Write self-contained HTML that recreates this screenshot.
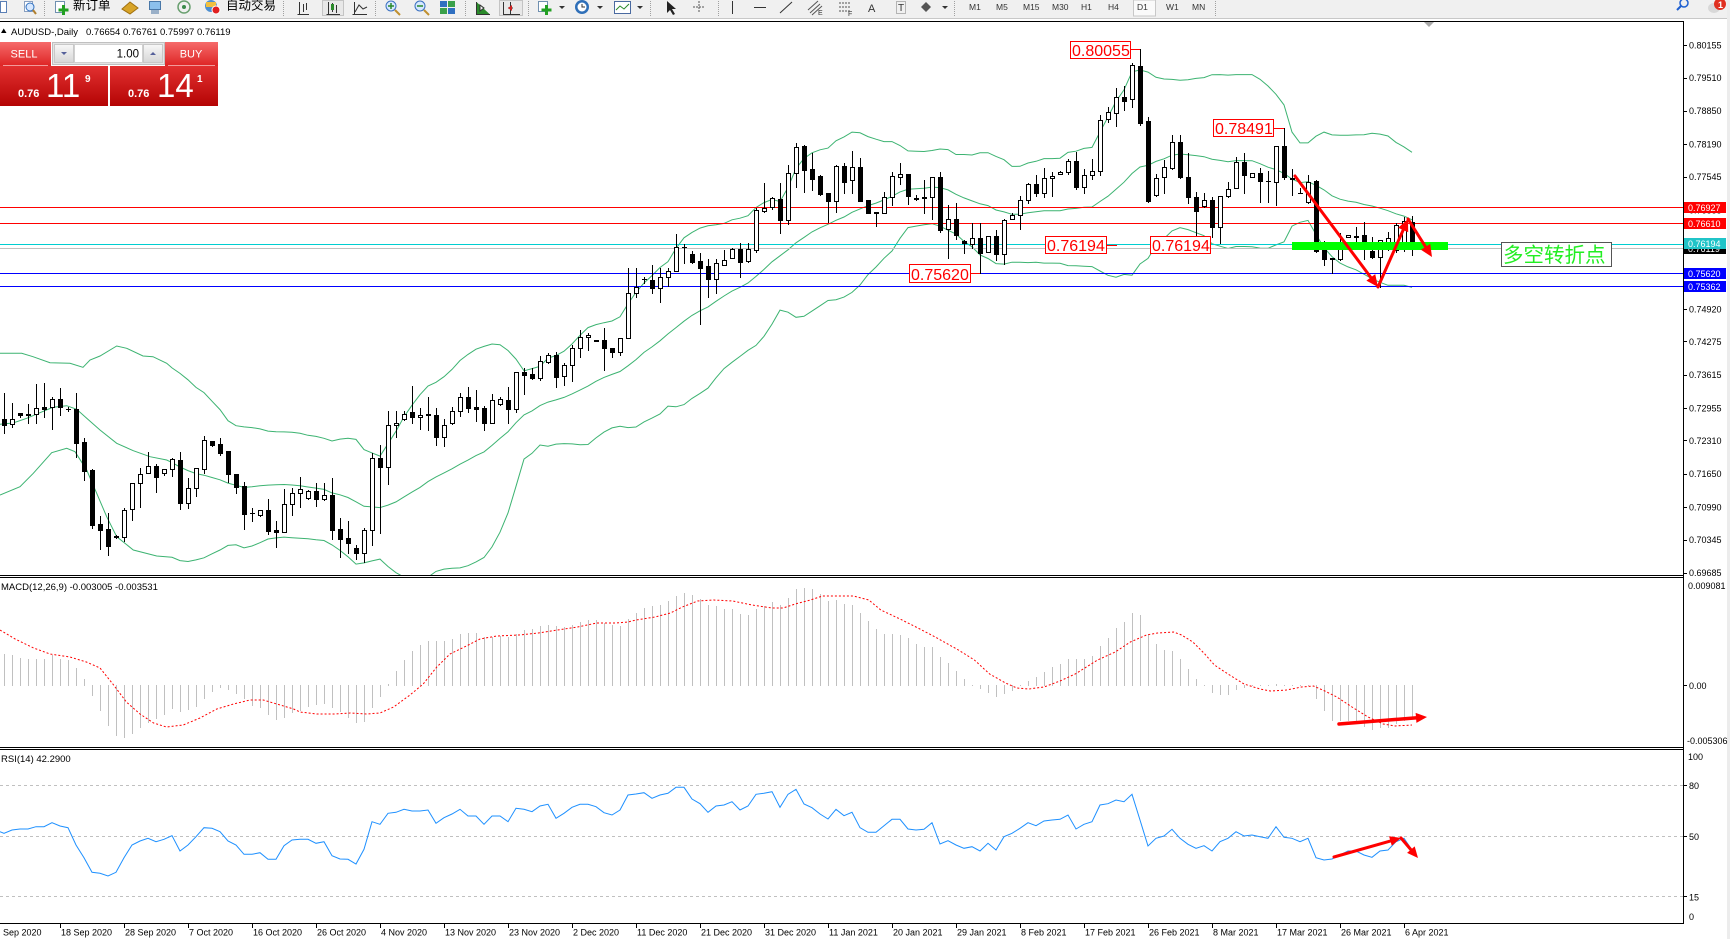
<!DOCTYPE html>
<html><head><meta charset="utf-8">
<style>
html,body{margin:0;padding:0;background:#fff;}
body{width:1730px;height:939px;overflow:hidden;}
svg{display:block;font-family:"Liberation Sans","Noto Sans CJK SC",sans-serif;}
</style></head><body>
<svg id="s" width="1730" height="939" viewBox="0 0 1730 939" xmlns="http://www.w3.org/2000/svg">
<defs>
 <clipPath id="cp"><rect x="0" y="22" width="1683" height="553"/></clipPath>
 <clipPath id="cm"><rect x="0" y="578" width="1683" height="169"/></clipPath>
 <clipPath id="cr"><rect x="0" y="750" width="1683" height="173"/></clipPath>
 <linearGradient id="gh" x1="0" y1="0" x2="0" y2="1"><stop offset="0" stop-color="#f66a6a"/><stop offset="1" stop-color="#de2424"/></linearGradient>
 <linearGradient id="gp" x1="0" y1="0" x2="0" y2="1"><stop offset="0" stop-color="#e23030"/><stop offset="1" stop-color="#b40404"/></linearGradient>
 <linearGradient id="gb" x1="0" y1="0" x2="0" y2="1"><stop offset="0" stop-color="#f8f8f8"/><stop offset="1" stop-color="#d6d6d6"/></linearGradient>
</defs>
<rect width="1730" height="939" fill="#fff"/>

<!-- toolbar -->
<rect x="0" y="0" width="1730" height="18" fill="#f0f0f0"/>
<rect x="0" y="18" width="1730" height="1" fill="#c8c8c8"/>
<g stroke-width="1">
 <rect x="0.5" y="1.5" width="6" height="11" fill="#fff" stroke="#5a7fb5"/>
 <rect x="24.5" y="1.5" width="8" height="10" fill="#fff" stroke="#8aa0c0"/>
 <circle cx="30" cy="7" r="4" fill="#d6e8ff" stroke="#3070c0"/>
 <line x1="33" y1="10" x2="36" y2="14" stroke="#b08030" stroke-width="2"/>
 <line x1="44.5" y1="1" x2="44.5" y2="16" stroke="#a0a0a0" stroke-dasharray="1,1"/>
 <rect x="55.5" y="1.5" width="9" height="11" fill="#fff" stroke="#7090b0"/>
 <rect x="62" y="5" width="3" height="10" fill="#22a022"/><rect x="58.5" y="8.5" width="10" height="3" fill="#22a022"/>
 <text x="73" y="9.5" font-size="12.5" fill="#000">新订单</text>
 <polygon points="122,9 130,2 138,8 130,14" fill="#d8a428" stroke="#a07010"/>
 <rect x="149.5" y="1.5" width="11" height="8" fill="#8cc0ec" stroke="#4a78a8"/>
 <rect x="151" y="10" width="8" height="4" fill="#9ab0c8"/>
 <circle cx="184" cy="7" r="6" fill="none" stroke="#6aa070" stroke-width="1.5"/>
 <circle cx="184" cy="7" r="2" fill="#3a8a4a"/>
 <circle cx="211" cy="6" r="6" fill="#4e8fd0"/><rect x="206" y="2" width="10" height="5" fill="#f0c040"/>
 <circle cx="216" cy="10" r="4" fill="#e02020" stroke="#fff"/>
 <text x="226" y="9.5" font-size="12.5" fill="#000">自动交易</text>
 <line x1="283.5" y1="1" x2="283.5" y2="16" stroke="#a0a0a0" stroke-dasharray="1,1"/>
 <path d="M297.5 14.5H309M299.5 2V14.5M303.5 4V12M306.5 3V10" stroke="#333" fill="none"/>
 <rect x="322.5" y="0.5" width="21" height="15" fill="#e8e8e8" stroke="#c4c4c4"/>
 <path d="M326.5 14.5H340M328.5 2V14.5M332.5 3V12M336.5 5V13" stroke="#333" fill="none"/><rect x="331" y="4" width="3" height="6" fill="#2a8a2a"/>
 <path d="M352.5 14.5H367M354.5 2V14.5M355 12L359 5L363 9L367 7" stroke="#333" fill="none"/>
 <line x1="375.5" y1="1" x2="375.5" y2="16" stroke="#a0a0a0" stroke-dasharray="1,1"/>
 <circle cx="391" cy="6" r="5" fill="#d6e8ff" stroke="#3a70c0"/><path d="M388 6H394M391 3V9" stroke="#2a8a2a" stroke-width="1.5"/>
 <line x1="395" y1="10" x2="400" y2="15" stroke="#c09030" stroke-width="2"/>
 <circle cx="420" cy="6" r="5" fill="#d6e8ff" stroke="#3a70c0"/><path d="M417 6H423" stroke="#2a8a2a" stroke-width="1.5"/>
 <line x1="424" y1="10" x2="429" y2="15" stroke="#c09030" stroke-width="2"/>
 <rect x="440" y="1" width="7" height="6" fill="#2f6fc0"/><rect x="448" y="1" width="7" height="6" fill="#3aa04a"/>
 <rect x="440" y="8" width="7" height="6" fill="#3aa04a"/><rect x="448" y="8" width="7" height="6" fill="#2f6fc0"/>
 <line x1="465.5" y1="1" x2="465.5" y2="16" stroke="#a0a0a0" stroke-dasharray="1,1"/>
 <path d="M476.5 2V14.5H490M480 5L484 8L480 11Z" stroke="#333" fill="#2a8a2a"/>
 <rect x="499.5" y="0.5" width="23" height="15" fill="#e8e8e8" stroke="#c4c4c4"/>
 <path d="M503.5 2V14.5H520M510.5 2V14M513 8L508 8" stroke="#333" fill="none"/><polygon points="508,8 512,5 512,11" fill="#d02020"/>
 <line x1="528.5" y1="1" x2="528.5" y2="16" stroke="#a0a0a0" stroke-dasharray="1,1"/>
 <rect x="538.5" y="1.5" width="9" height="10" fill="#fff" stroke="#7090b0"/>
 <rect x="545" y="5" width="3" height="10" fill="#22a022"/><rect x="541.5" y="8.5" width="10" height="3" fill="#22a022"/>
 <polygon points="559,6 565,6 562,9" fill="#333"/>
 <circle cx="582" cy="7" r="7" fill="#2f6fb8"/><circle cx="582" cy="7" r="4.5" fill="#fff"/><path d="M582 4V7H585" stroke="#333" fill="none"/>
 <polygon points="597,6 603,6 600,9" fill="#333"/>
 <rect x="614.5" y="1.5" width="16" height="12" fill="#fff" stroke="#4a6aa0"/><path d="M616 10L620 6L624 9L629 4" stroke="#2a8a2a" fill="none"/>
 <polygon points="637,6 643,6 640,9" fill="#333"/>
 <line x1="650.5" y1="1" x2="650.5" y2="16" stroke="#a0a0a0" stroke-dasharray="1,1"/>
 <polygon points="667,1 667,13 670,10 673,15 675,14 672,9 676,9" fill="#222"/>
 <path d="M693 7H705M699 1V13" stroke="#555" stroke-dasharray="2,1"/>
 <line x1="718.5" y1="1" x2="718.5" y2="16" stroke="#a0a0a0" stroke-dasharray="1,1"/>
 <line x1="732.5" y1="1" x2="732.5" y2="14" stroke="#333"/>
 <line x1="754" y1="7.5" x2="766" y2="7.5" stroke="#333"/>
 <line x1="780" y1="13" x2="792" y2="2" stroke="#333"/>
 <path d="M808 10L818 1M810 13L820 4M812 15L822 6" stroke="#555" fill="none"/>
 <text x="818" y="15" font-size="7" fill="#333">E</text>
 <path d="M839 3H851M839 7H851M839 11H851" stroke="#555" stroke-dasharray="2,1"/>
 <text x="848" y="16" font-size="7" fill="#333">F</text>
 <text x="868" y="12" font-size="11" fill="#333">A</text>
 <rect x="896.5" y="1.5" width="9" height="12" fill="none" stroke="#777" stroke-dasharray="1,1"/>
 <text x="898" y="11" font-size="10" fill="#333">T</text>
 <polygon points="926,2 931,7 926,12 921,7" fill="#555"/>
 <polygon points="942,6 948,6 945,9" fill="#333"/>
 <line x1="954.5" y1="1" x2="954.5" y2="16" stroke="#a0a0a0" stroke-dasharray="1,1"/>
 <rect x="1133.5" y="0" width="22" height="16" fill="#fafafa" stroke="#c8c8c8"/>
 <g font-size="8.5" fill="#333">
  <text x="969" y="10">M1</text><text x="996" y="10">M5</text><text x="1023" y="10">M15</text>
  <text x="1052" y="10">M30</text><text x="1081" y="10">H1</text><text x="1108" y="10">H4</text>
  <text x="1137" y="10">D1</text><text x="1166" y="10">W1</text><text x="1192" y="10">MN</text>
 </g>
 <line x1="1215.5" y1="1" x2="1215.5" y2="16" stroke="#a0a0a0" stroke-dasharray="1,1"/>
 <circle cx="1684" cy="3" r="4" fill="none" stroke="#2060d0" stroke-width="1.5"/>
 <line x1="1681" y1="6" x2="1677" y2="10" stroke="#2060d0" stroke-width="2"/>
 <ellipse cx="1714" cy="8" rx="6" ry="5" fill="#d8d8d8"/>
 <circle cx="1720" cy="4" r="6" fill="#e03020"/>
 <text x="1718" y="8" font-size="9" fill="#fff" font-weight="bold">1</text>
</g>
<rect x="1727" y="0" width="3" height="939" fill="#ececec"/>

<!-- frame -->
<rect x="0" y="21" width="1684" height="1" fill="#000"/>
<rect x="1683" y="21" width="1" height="903" fill="#000"/>
<rect x="0" y="575" width="1684" height="1" fill="#000"/>
<rect x="0" y="577" width="1684" height="1" fill="#000"/>
<rect x="0" y="747" width="1684" height="1" fill="#000"/>
<rect x="0" y="749" width="1684" height="1" fill="#000"/>
<rect x="0" y="923" width="1684" height="1" fill="#000"/>
<polygon points="1424,22 1434,22 1429,27" fill="#a8a8a8"/>

<!-- price panel -->
<g clip-path="url(#cp)">
 <g id="bands" fill="none" stroke="#3cb371" stroke-width="1"></g>
 <line x1="0" y1="207.5" x2="1683" y2="207.5" stroke="#ff0000"/>
 <line x1="0" y1="223.5" x2="1683" y2="223.5" stroke="#ff0000"/>
 <line x1="0" y1="248.5" x2="1683" y2="248.5" stroke="#c0c0c0"/>
 <line x1="0" y1="244.5" x2="1683" y2="244.5" stroke="#00ced1"/>
 <line x1="0" y1="273.5" x2="1683" y2="273.5" stroke="#0000ff"/>
 <line x1="0" y1="286.5" x2="1683" y2="286.5" stroke="#0000ff"/>
 <g id="candles"></g>
 <!-- labels -->
 <g font-size="16" fill="#ff0000">
  <line x1="1131" y1="49.5" x2="1140" y2="49.5" stroke="#ff0000"/>
  <rect x="1070.5" y="41.5" width="60" height="17" fill="#fff" stroke="#ff0000"/>
  <text x="1072" y="56">0.80055</text>
  <line x1="1274" y1="128.5" x2="1284" y2="128.5" stroke="#ff0000"/>
  <rect x="1213.5" y="119.5" width="60" height="17" fill="#fff" stroke="#ff0000"/>
  <text x="1215" y="134">0.78491</text>
  <line x1="1107" y1="245.5" x2="1117" y2="245.5" stroke="#ff0000"/>
  <rect x="1045.5" y="236.5" width="61" height="17" fill="#fff" stroke="#ff0000"/>
  <text x="1047" y="251">0.76194</text>
  <rect x="1150.5" y="236.5" width="60" height="17" fill="#fff" stroke="#ff0000"/>
  <text x="1152" y="251">0.76194</text>
  <line x1="971" y1="273.5" x2="980" y2="273.5" stroke="#ff0000"/>
  <rect x="909.5" y="264.5" width="61" height="18" fill="#fff" stroke="#ff0000"/>
  <text x="911" y="280">0.75620</text>
 </g>
 <rect x="1292" y="242" width="156" height="8" fill="#00ff00"/>
 <g id="arrows"></g>
 <rect x="1501.5" y="242.5" width="110" height="24" fill="#fff" stroke="#555"/>
 <text x="1503" y="262" font-size="20.5" fill="#22ee22" font-family="'Noto Sans CJK SC','WenQuanYi Zen Hei',sans-serif">多空转折点</text>
</g>

<!-- price axis -->
<g font-size="9" fill="#000" id="paxis"></g>
<g font-size="9" fill="#fff">
 <rect x="1684" y="202" width="42" height="11" fill="#ff0000"/><text x="1688" y="211">0.76927</text>
 <rect x="1684" y="218" width="42" height="11" fill="#ff0000"/><text x="1688" y="227">0.76610</text>
 <rect x="1684" y="243" width="42" height="11" fill="#000"/><text x="1688" y="252">0.76119</text>
 <rect x="1684" y="238" width="42" height="11" fill="#20c4c8"/><text x="1688" y="247">0.76194</text>
 <rect x="1684" y="281" width="42" height="11" fill="#0000ff"/><text x="1688" y="290">0.75362</text>
 <rect x="1684" y="268" width="42" height="11" fill="#0000ff"/><text x="1688" y="277">0.75620</text>
</g>

<!-- header -->
<polygon points="1,33 6.5,33 3.75,28.5" fill="#000"/>
<text x="11" y="35" font-size="9.5" fill="#000">AUDUSD-,Daily</text>
<text x="86" y="35" font-size="9.5" fill="#000">0.76654 0.76761 0.75997 0.76119</text>

<!-- trade widget -->
<g>
 <rect x="0" y="42" width="51" height="24" fill="url(#gh)"/>
 <rect x="165" y="42" width="53" height="24" fill="url(#gh)"/>
 <line x1="3" y1="65.5" x2="48" y2="65.5" stroke="#f29a9a"/>
 <line x1="168" y1="65.5" x2="215" y2="65.5" stroke="#f29a9a"/>
 <rect x="52.5" y="42.5" width="112" height="22" fill="#e4e4e4" stroke="#c0c0c0"/>
 <rect x="54.5" y="44.5" width="19" height="18" fill="url(#gb)" stroke="#c8c8c8"/>
 <rect x="74.5" y="44.5" width="68" height="18" fill="#fff" stroke="#d0d0d0"/>
 <rect x="143.5" y="44.5" width="19" height="18" fill="url(#gb)" stroke="#c8c8c8"/>
 <polygon points="61,52 67,52 64,55" fill="#55609a"/>
 <polygon points="150,55 156,55 153,52" fill="#55609a"/>
 <text x="139" y="57.5" font-size="11.5" fill="#000" text-anchor="end">1.00</text>
 <text x="24" y="57.5" font-size="11" fill="#fff" text-anchor="middle">SELL</text>
 <text x="191" y="57.5" font-size="11" fill="#fff" text-anchor="middle">BUY</text>
 <rect x="0" y="66" width="108" height="40" fill="url(#gp)"/>
 <rect x="110" y="66" width="108" height="40" fill="url(#gp)"/>
 <g fill="#fff">
  <text x="18" y="97" font-size="11" font-weight="bold">0.76</text>
  <text x="46" y="97" font-size="33">11</text>
  <text x="85" y="82" font-size="10" font-weight="bold">9</text>
  <text x="128" y="97" font-size="11" font-weight="bold">0.76</text>
  <text x="157" y="97" font-size="33">14</text>
  <text x="197" y="82" font-size="10" font-weight="bold">1</text>
 </g>
</g>

<!-- MACD panel -->
<text x="1" y="590" font-size="9.5" fill="#000">MACD(12,26,9) -0.003005 -0.003531</text>
<g clip-path="url(#cm)">
 <g id="hist"></g>
 <polyline id="sig" fill="none" stroke="#ff0000" stroke-width="1" stroke-dasharray="2,2" points=""/>
 <g id="marrow"></g>
</g>
<g font-size="9" fill="#000">
 <text x="1688" y="589">0.009081</text>
 <line x1="1683" y1="685.5" x2="1687" y2="685.5" stroke="#000"/><text x="1689" y="689">0.00</text>
 <text x="1687" y="744">-0.005306</text>
</g>

<!-- RSI panel -->
<text x="1" y="762" font-size="9.5" fill="#000">RSI(14) 42.2900</text>
<g clip-path="url(#cr)">
 <g stroke="#c0c0c0" stroke-dasharray="3,3">
  <line x1="0" y1="785.5" x2="1683" y2="785.5"/>
  <line x1="0" y1="836.5" x2="1683" y2="836.5"/>
  <line x1="0" y1="896.5" x2="1683" y2="896.5"/>
 </g>
 <polyline id="rsi" fill="none" stroke="#1e90ff" stroke-width="1" points=""/>
 <g id="rarrow"></g>
</g>
<g font-size="9" fill="#000">
 <text x="1688" y="760">100</text>
 <line x1="1683" y1="785.5" x2="1687" y2="785.5" stroke="#000"/><text x="1689" y="789">80</text>
 <line x1="1683" y1="836.5" x2="1687" y2="836.5" stroke="#000"/><text x="1689" y="840">50</text>
 <line x1="1683" y1="896.5" x2="1687" y2="896.5" stroke="#000"/><text x="1689" y="900.5">15</text>
 <text x="1689" y="920">0</text>
</g>

<!-- time axis -->
<g id="taxis" font-size="9" fill="#000"></g>
</svg>
<script>
(function(){
function add(id,h){document.getElementById(id).insertAdjacentHTML('beforeend',h);}
var CD="B 419 425 393 433|W 419 424 403 427|B 413 415 413 417|B 414 415 404 423|W 408 414 384 423|B 407 409 383 417|W 399 407 397 429|B 399 407 388 415|B 409 409 407 411|B 409 443 393 457|B 442 471 438 480|B 470 525 469 528|B 524 530 516 549|B 529 546 513 555|B 536 537 535 538|W 510 537 508 541|W 483 509 483 520|W 474 483 468 507|W 466 473 452 473|B 466 477 464 492|W 469 473 469 475|W 459 469 458 476|B 460 503 452 509|W 488 503 478 508|W 468 488 468 496|W 440 469 436 473|B 441 445 441 446|B 444 453 438 455|B 451 474 451 482|B 474 487 474 493|B 486 514 482 529|B 513 513 508 521|W 510 515 510 516|B 510 531 499 534|B 530 532 521 547|W 504 532 489 532|W 493 504 488 515|W 489 493 477 507|W 491 498 490 499|B 491 499 483 506|W 495 499 483 500|B 495 530 478 539|B 529 539 518 557|B 538 543 521 553|B 548 553 545 559|W 530 553 528 562|W 458 530 453 545|B 458 467 445 533|W 425 467 411 484|W 423 425 411 437|W 414 419 411 420|B 412 417 386 423|W 415 417 408 429|B 414 415 397 430|B 415 437 408 445|W 425 437 419 446|W 411 423 407 424|W 397 411 393 416|B 397 408 387 412|B 407 409 390 421|B 408 423 406 430|W 400 423 394 423|W 399 404 397 405|B 400 409 387 423|W 372 409 372 412|B 372 375 368 394|B 374 378 368 379|W 361 378 356 380|W 355 362 353 363|B 355 377 352 387|W 365 376 363 385|W 348 365 345 381|W 337 348 330 357|W 335 337 333 350|B 340 341 340 341|B 340 348 328 370|B 348 352 348 357|W 338 352 338 355|W 293 338 268 338|W 287 293 268 297|B 279 279 277 283|B 280 288 265 293|W 277 288 268 302|W 271 277 268 286|W 247 271 234 271|B 247 247 244 263|B 254 262 251 263|B 261 268 253 324|B 266 279 259 297|W 263 279 259 293|W 260 265 250 265|W 249 258 248 258|B 249 262 243 277|W 249 261 243 262|W 210 250 208 252|W 208 211 183 212|W 198 207 197 209|B 199 220 183 233|W 173 220 165 224|W 147 173 143 187|B 146 170 145 192|B 169 179 153 190|B 176 194 175 195|B 193 201 193 222|W 166 201 165 212|B 166 182 163 193|W 167 180 151 193|B 167 201 158 201|B 200 213 200 213|B 212 213 212 226|W 197 213 192 213|W 176 197 172 205|W 174 177 163 184|B 174 196 174 204|W 198 199 195 200|B 197 198 180 213|W 177 197 177 219|B 177 230 172 232|W 219 229 205 258|B 219 235 203 239|B 241 243 240 253|W 238 244 223 248|B 238 253 223 273|W 236 252 236 252|B 236 254 230 260|W 220 254 219 264|W 215 219 213 219|W 200 215 196 229|W 184 200 183 203|B 184 193 175 196|W 178 193 168 197|W 176 178 172 196|W 172 174 171 174|W 161 172 159 174|B 161 187 152 189|W 175 187 169 193|W 171 175 159 179|W 120 171 115 175|W 112 119 107 122|W 97 113 88 126|B 97 101 86 110|W 65 99 63 107|B 66 123 49 125|B 121 201 117 202|W 178 195 174 196|W 167 177 160 193|W 142 168 135 169|B 142 177 135 178|B 177 197 153 203|B 197 211 192 242|W 200 206 193 207|B 200 227 197 237|W 196 227 196 243|W 189 196 182 197|W 162 188 157 188|B 162 175 153 193|W 173 177 173 177|B 173 181 168 202|B 181 181 171 202|W 146 182 146 205|B 146 177 128 179|B 178 179 169 195|B 193 193 188 193|W 182 202 175 203|B 181 251 180 252|B 250 259 241 265|B 258 259 258 273|W 246 259 233 260|W 235 237 235 237|W 236 237 227 242|B 235 243 222 259|B 251 257 237 258|W 240 257 240 287|W 238 243 232 250|W 225 250 223 252|W 221 246 217 251|B 222 248 216 255";
var C=CD.split('|').map(function(s){var p=s.split(' ');return {bull:p[0]=='W',bt:+p[1],bb:+p[2],wt:+p[3],wb:+p[4]};});
var h='';
C.forEach(function(c,i){var x=4+8*i;
 h+='<line x1="'+(x+.5)+'" y1="'+c.wt+'" x2="'+(x+.5)+'" y2="'+(c.wb+1)+'" stroke="#000"/>';
 var bh=c.bb-c.bt;
 if(bh<1){h+='<rect x="'+(x-2)+'" y="'+c.bt+'" width="5" height="1" fill="#000"/>';}
 else if(c.bull){h+='<rect x="'+(x-1.5)+'" y="'+(c.bt+.5)+'" width="4" height="'+bh+'" fill="#fff" stroke="#000"/>';}
 else {h+='<rect x="'+(x-2)+'" y="'+c.bt+'" width="5" height="'+(bh+1)+'" fill="#000"/>';}
});
add('candles',h);
// Bollinger: transcribed start + computed rest
var closes=C.map(function(c){return c.bull?c.bt:c.bb;});
var prior=[470,469,460,464,442,422,451,456,468,452,431,426,402,359,355,346,393,416,403,411];
var all=prior.concat(closes);
var up=['0,353.3','21.7,353.3','33,356.7','50,362.7','70,363.3','83,367.3','90,360','100,356','116.7,346','126.7,348.3','143,356','153,356.7','166.7,363.3'];
var mid=['0,424.3','13,423','26.7,418.3','40,412.7','53,407.3','66.7,405.7','76.7,409.3','86.7,418.3','100,430','116.7,443.3','133.3,450.7','150,456.7','166.7,460'];
var lo=['0,495','20,486.7','33.3,473.3','51.7,452.7','66.7,448.3','75,451.7','86.7,470','96.7,493.3','106.7,516.7','116.7,536.7','133.3,550','156.7,556'];
for(var i=21;i<closes.length;i++){var e=i+20,s=0,k;for(k=e-19;k<=e;k++)s+=all[k];var m=s/20,v=0;for(k=e-19;k<=e;k++)v+=(all[k]-m)*(all[k]-m);var sd=Math.sqrt(v/20);var x=4+8*i;
 up.push(x+','+(m-2*sd).toFixed(1));mid.push(x+','+m.toFixed(1));lo.push(x+','+(m+2*sd).toFixed(1));}
add('bands','<polyline points="'+up.join(' ')+'"/><polyline points="'+mid.join(' ')+'"/><polyline points="'+lo.join(' ')+'"/>');
// arrows
function arrow(x1,y1,x2,y2,w,L,W){var dx=x2-x1,dy=y2-y1,d=Math.sqrt(dx*dx+dy*dy),ux=dx/d,uy=dy/d;
 var bx=x2-ux*L,by=y2-uy*L,px=-uy*W/2,py=ux*W/2;
 return '<line x1="'+x1+'" y1="'+y1+'" x2="'+(x2-ux*L*0.6)+'" y2="'+(y2-uy*L*0.6)+'" stroke="#ff0000" stroke-width="'+w+'" stroke-linecap="round"/>'+
 '<polygon points="'+x2+','+y2+' '+(bx+px)+','+(by+py)+' '+(bx-px)+','+(by-py)+'" fill="#ff0000"/>';}
add('arrows',arrow(1295,176,1378,287,3,12,11)+arrow(1378,287,1408,219,3,12,11)+arrow(1408,219,1432,257,3,12,11));
add('marrow',arrow(1339,724,1427,717,3.5,11,10));
add('rarrow',arrow(1334,857,1401,838,3,11,10)+arrow(1401,838,1418,858,3,11,10));
// MACD hist
var HI=[32,31,28,27,27,27,31,27,26,18,7,-11,-26,-41,-51,-53,-49,-43,-38,-34,-30,-24,-27,-25,-22,-14,-7,-3,-5,-9,-14,-21,-23,-30,-35,-33,-28,-26,-22,-20,-19,-23,-27,-33,-38,-37,-23,-12,2,15,26,35,41,45,45,45,47,52,53,53,49,49,50,49,52,56,57,60,61,60,59,61,64,66,66,63,61,60,67,73,78,80,81,85,90,93,91,87,81,80,77,77,72,71,77,80,84,81,88,97,98,97,92,85,86,82,81,73,65,57,52,52,51,48,42,39,39,29,23,15,7,1,-4,-8,-12,-9,-6,1,5,9,14,19,22,27,27,27,30,40,48,58,64,73,71,52,42,36,35,27,17,7,1,-8,-10,-10,-5,-3,-1,1,1,2,1,1,-1,-1,-14,-26,-36,-36,-36,-39,-42,-45,-43,-43,-39,-36,-33];
h='';HI.forEach(function(v,i){var x=4+8*i+.5;if(v>=0)h+='<line x1="'+x+'" y1="686" x2="'+x+'" y2="'+(686-v)+'" stroke="#c0c0c0"/>';else h+='<line x1="'+x+'" y1="685" x2="'+x+'" y2="'+(685-v)+'" stroke="#c0c0c0"/>';});
add('hist',h);
var SIG=[[-0.5,56],[1.4,47],[3.7,38],[5.75,32],[8.25,29],[10.3,24],[12,18],[13.7,1],[15.3,-16],[17,-28],[18.7,-37],[20.3,-41],[22.4,-39],[24.5,-32],[26.6,-23],[28.7,-18],[30.75,-14],[32.4,-14],[34.1,-18],[36.2,-23],[37,-26],[39.1,-28],[41.2,-28],[43.3,-27],[45.3,-28],[47,-27],[48.7,-21],[50.75,-9],[52.4,2],[54.1,19],[55.75,32],[57.8,40],[59.5,47],[61.6,50],[64.4,51],[66.8,53],[69.2,56],[71.7,59],[74.1,63],[76.5,63],[78,64],[79,66],[81.4,69],[83.3,73],[84.8,79],[86.7,85],[88.7,86],[91.1,85],[93.5,81],[96,78],[97.4,78],[98.9,82],[100.8,86],[102.3,90],[106.2,90],[108.1,86],[109.6,76],[112,67],[114,59],[116.4,49],[119.3,36],[121.3,26],[123.2,12],[125.2,3],[126.6,-2],[128.1,-3],[130,-1],[132,5],[133.9,12],[134.7,16],[136.7,26],[138.9,34],[140.8,44],[142.8,51],[144.2,53],[146.2,54],[147.2,51],[148.6,44],[150.1,32],[151.3,21],[153,12],[155,2],[157,-3],[158.3,-5],[160.3,-4],[162.2,-1],[163.7,0],[165.1,-5],[166.6,-11],[168.5,-21],[170.5,-31],[172.4,-38],[173.9,-40],[176,-39]];
document.getElementById('sig').setAttribute('points',SIG.map(function(p){return (4+8*p[0]).toFixed(1)+','+(686-p[1]);}).join(' '));
// RSI
var R=[[0,831.7],[4,833.3],[12.3,830],[20.3,829],[28.3,829],[36.3,826.7],[44.3,826.7],[52.3,822.7],[60.3,826],[68.3,827.7],[76.3,845],[84.3,857.7],[92.3,872.3],[100.3,873.3],[108.3,876],[116.3,872.3],[124.3,857.7],[132.3,845],[140.3,841],[148.3,838.3],[156.3,841.7],[164.3,839.3],[172.3,835.7],[180.3,851],[188.3,845],[196.3,836.7],[204.3,827.7],[212.3,828.3],[220.3,831.7],[228.3,841],[236.3,845],[244.3,854.3],[252.3,854.3],[260.3,852.7],[268.3,859.3],[276.3,859.3],[284.3,845.7],[292.3,840],[300.3,839.3],[308.3,839.3],[316.3,843.3],[324.3,841.7],[332.3,855.7],[340.3,859],[348.3,859.3],[356.3,864],[364.3,849.3],[372.3,821.7],[380.3,824.3],[388.3,813.3],[396.3,812.3],[404.3,809.3],[412.3,811],[420.3,811],[428.3,810],[436.3,823.3],[444.3,817.7],[452.3,814],[460.3,809.3],[468.3,816],[476.3,816],[484.3,824.3],[492.3,816],[500,816],[508,821.7],[516.2,808.3],[524,809.3],[532,811.7],[540,806],[548,804.3],[556.2,818.3],[564,813.3],[572,807.3],[580,804.3],[588.2,804.3],[596.3,806.7],[604,812.7],[612.3,815],[620,810],[628.2,795],[636,794],[644.2,792.7],[652.3,798.3],[660,795],[668.3,793.3],[676,787.3],[684.2,787.3],[692,799],[700.2,803.7],[708,812.3],[716.1,806],[724.3,805],[732,801.7],[740.3,810],[748,806],[756.2,794.3],[764,793.3],[772.2,791.7],[780.3,807.3],[788,794.3],[796.3,789.3],[804,804],[812.2,807.7],[820,814],[828.2,819],[836,809.3],[844.1,815.7],[852.3,812.3],[860,827.7],[868.2,832.3],[876,832.3],[884.2,825.7],[892,819.3],[900.2,819.3],[908,829],[916.1,830],[924,829.3],[932,822.7],[940.2,844],[948,840.7],[956.2,845],[964,848.3],[972.1,846.7],[980.3,851],[988,843.3],[996.2,850],[1004,836.7],[1012.2,833.3],[1020,828.3],[1028.1,822.7],[1036.3,825.7],[1044,821],[1052.3,820],[1060,819.3],[1068.2,815],[1076,829],[1084,824.3],[1092,821.7],[1099.5,805],[1107,803.7],[1117,800],[1124.7,801.7],[1132.5,794.3],[1140.3,820],[1148,846],[1158,838.3],[1163.6,836],[1172.6,829.3],[1179.2,838.3],[1189,844.3],[1196.7,848.3],[1204.5,845.7],[1213,851],[1220,841.7],[1227.8,838.3],[1235.6,831.7],[1243.4,836],[1253,835],[1261,836.7],[1268.7,838.3],[1276.5,826.7],[1284.2,837.3],[1294,838.3],[1301,841.7],[1307.6,838.3],[1315.4,857.7],[1323,860],[1331,859],[1338.7,855],[1346.5,851],[1356.2,851],[1364,855],[1371.8,857.3],[1379.6,851],[1387.3,850],[1395,841.7],[1403,838.3],[1412,850]];
var seen={},pts=[];
R.forEach(function(p,j){var xs=j==0?0:4+8*Math.round((p[0]-4)/8);if(seen[xs])return;seen[xs]=1;pts.push(xs+','+p[1]);});
document.getElementById('rsi').setAttribute('points',pts.join(' '));
// price axis
var PL=[['0.80155',45],['0.79510',77.5],['0.78850',110.7],['0.78190',144],['0.77545',176.5],['0.76885',209.8],['0.76225',243],['0.75580',275.5],['0.74920',308.8],['0.74275',341.4],['0.73615',374.6],['0.72955',407.9],['0.72310',440.4],['0.71650',473.7],['0.70990',507],['0.70345',539.5],['0.69685',572.7]];
h='';PL.forEach(function(p){var y=Math.round(p[1]);h+='<line x1="1683" y1="'+(y+.5)+'" x2="1687" y2="'+(y+.5)+'" stroke="#000"/><text x="1689" y="'+(p[1]+3.5)+'">'+p[0]+'</text>';});
add('paxis',h);
// time axis
var TL=['Sep 2020','18 Sep 2020','28 Sep 2020','7 Oct 2020','16 Oct 2020','26 Oct 2020','4 Nov 2020','13 Nov 2020','23 Nov 2020','2 Dec 2020','11 Dec 2020','21 Dec 2020','31 Dec 2020','11 Jan 2021','20 Jan 2021','29 Jan 2021','8 Feb 2021','17 Feb 2021','26 Feb 2021','8 Mar 2021','17 Mar 2021','26 Mar 2021','6 Apr 2021'];
h='';TL.forEach(function(t,k){var x=-4+64*k;var tx=k==0?3:x+1;h+='<line x1="'+(x+.5)+'" y1="923" x2="'+(x+.5)+'" y2="928" stroke="#000"/><text x="'+tx+'" y="935.5">'+t+'</text>';});
add('taxis',h);
})();
</script>
</body></html>
